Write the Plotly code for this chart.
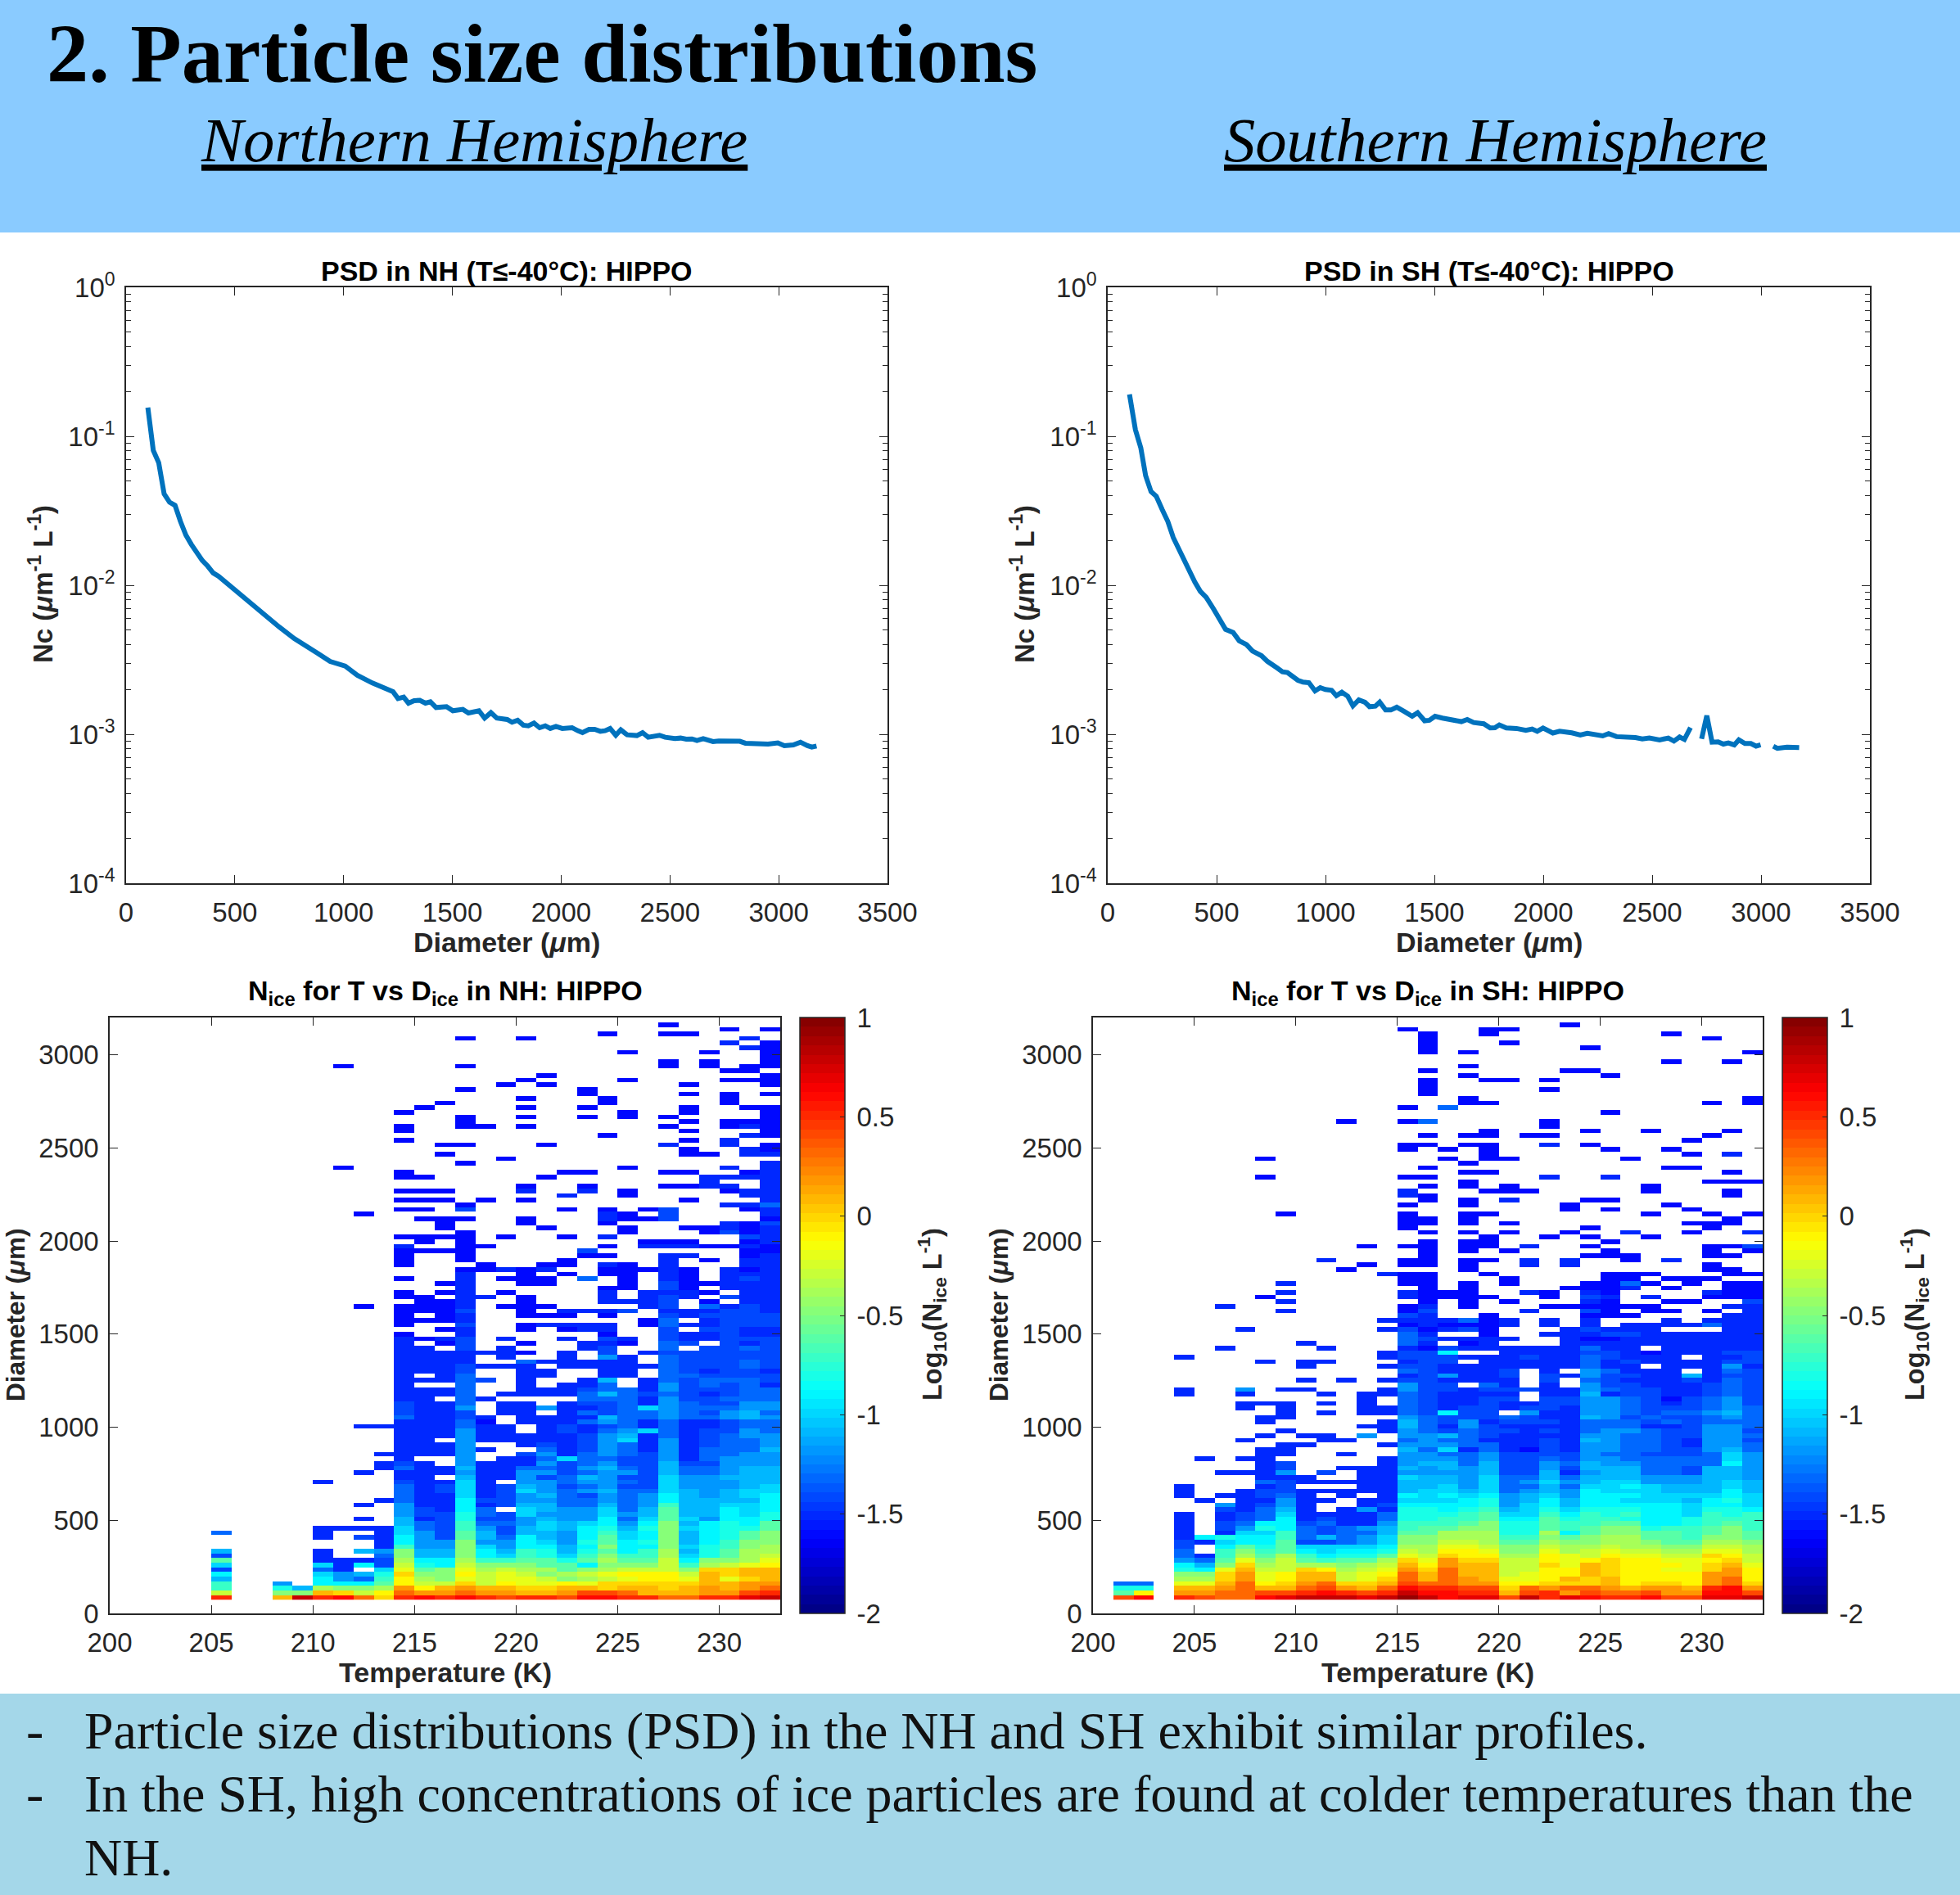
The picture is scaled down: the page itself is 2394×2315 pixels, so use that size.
import plotly.graph_objects as go

# ---------------- data ----------------
NH_DIAMETER = [100,125,150,175,200,225,250,275,300,325,350,375,400,425,475,510,552,593,649,704,773,828,883,938,1007,1063,1132,1214,
1227,1250,1276,1298,1324,1350,1376,1399,1425,1473,1502,1548,1574,1622,1648,1677,1704,1752,1774,1800,1826,1849,1875,1901,1927,1950,1976,2005,2050,2076,2098,2128,2154,2180,2202,2225,2251,2274,2303,2348,2374,2400,2452,2478,2523,2549,2575,2601,2624,2653,2698,2724,2821,2847,2925,2951,2996,3026,3067,3100,3132,3152,3174]
NH_NC = [0.156,0.0805,0.0665,0.0410,0.0361,0.0344,0.0268,0.0217,0.0188,0.01655,0.01467,0.01346,0.01211,0.0115,0.0100,0.0089,0.00802,0.00711,0.00604,0.00525,0.00439,0.00395,0.00348,0.00308,0.00287,0.00249,0.00221,0.00197,
0.001932,0.001738,0.001774,0.001618,0.001682,0.001688,0.001618,0.001652,0.001512,0.001532,0.001438,0.001469,0.001390,0.001438,0.001284,0.001396,0.001284,0.001256,0.001205,0.001242,0.001151,0.001140,0.001189,0.001107,0.001140,0.001094,0.001130,0.001094,0.001107,0.001057,0.001026,0.001079,0.001079,0.001047,0.001057,0.001094,0.000984,0.001071,0.000992,0.000980,0.001026,0.000955,0.000984,0.000955,0.000935,0.000943,0.000927,0.000931,0.000908,0.000935,0.000893,0.000900,0.000897,0.000871,0.000867,0.000859,0.000875,0.000838,0.000849,0.000885,0.000838,0.000820,0.000834]
SH_DIAMETER = [100,127,152,174,199,223,251,276,301,325,350,375,400,425,452,485,513,541,576,604,637,665,706,734,
778,802,825,873,897,924,952,976,999,1028,1050,1075,1102,1126,1153,1181,1202,1229,1249,1276,1300,1327,1360,1398,1423,1455,1477,1503,1537,1601,1624,1651,1680,1727,1756,1778,1798,1830,1877,1920,1949,1972,1999,2044,2075,2131,2170,2202,2273,2300,2336,2423,2455,2487,2534,2574,2600,2626,2648,2676,2700,2727,2751,2775,2803,2827,2850,2877,2898,2926,2953,2977,2998,3025,3056,3075,3119,3151,3175]
SH_NC = [0.1914,0.1109,0.0835,0.0545,0.0425,0.0396,0.0320,0.0268,0.0209,0.0175,0.0150,0.0125,0.0105,0.00912,0.00832,0.00697,0.00583,0.00506,0.00482,0.00424,0.00400,0.00362,0.00337,0.00308,
0.002786,0.002628,0.002594,0.002306,0.002239,0.002218,0.001955,0.002056,0.001999,0.001972,0.001815,0.001915,0.001799,0.001552,0.001703,0.001640,0.001532,0.001545,0.001644,0.001455,0.001455,0.001519,0.001426,0.001321,0.001396,0.001231,0.001242,0.001321,0.001284,0.001219,0.001216,0.001256,0.001199,0.001175,0.001102,0.001107,0.001156,0.001102,0.001094,0.001062,0.001084,0.001047,0.001102,0.001019,0.001047,0.001022,0.000988,0.001014,0.000975,0.001010,0.000964,0.000951,0.000931,0.000943,0.000917,0.000943,0.000900,0.000959,0.000923,0.001107,None,0.000931,0.001333,0.000885,0.000889,0.000859,0.000875,0.000849,0.000917,0.000867,0.000867,0.000832,0.000849,None,0.000832,0.000804,0.000820,0.000815,0.000815]

TEMPERATURE_BINS = [200.5 + c for c in range(33)]
DIAMETER_BINS_TOP_DOWN = [3186.4 - 24.8 * n for n in range(126)]

# one letter per cell, "col:letters" = run of cells starting at a temperature column
LEVEL_LETTERS = "ABCDEFGHIJKLMNOPQRSTUVWXYZ"
LEVEL_VALUES = [-1.62,-1.5,-1.4,-1.3,-1.2,-1.1,-1.0,-0.9,-0.8,-0.7,-0.6,-0.5,-0.4,-0.3,-0.2,-0.1,0.0,0.1,0.2,0.3,0.4,0.5,0.6,0.7,0.8,0.95]

NH_ROWS = [
"","27:A","30:A 32:A","24:A 27:AA","17:A 20:A 31:B","30:B 32:A","31:B 32:A","25:A 29:A 32:A","32:A","27:A 29:A 32:A",
"11:A 17:A 27:A 29:A 31:AA","30:AA","21:A 32:A","20:A 25:A 30:AAA","19:A 21:A 28:A 32:A","17:A 23:A","23:A 28:A 30:A 32:A","20:A 24:A 30:A","16:A 24:A 30:A","15:A 20:A 23:A 28:A 31:AA",
"14:A 25:A 28:A 32:A","17:A 20:A 23:A 25:A 27:A 32:A","17:A 28:A 30:AAA","14:A 17:AA 20:A 27:A 30:ABA","14:A 28:A 32:A","24:A 31:BA","14:A 28:A 30:B","16:AA 21:A 27:B 30:B 32:A","28:A 31:BA","16:A 28:AA 31:BB",
"19:A","17:A 32:B","11:A 25:A 30:B 32:B","14:A 22:AA 27:AA 31:AB","14:AA 21:A 29:BBB 32:B","29:B 32:B","20:A 23:A 27:AA 29:BB 32:B","14:AAA 20:B 23:B 25:A 30:AB 32:B","22:B 25:A 31:B 32:B","14:AAA 18:A 20:A 28:A 32:B",
"17:A 30:BB 32:D","14:AA 17:C 22:A 24:A 26:A 27:C 31:A 32:B","12:A 24:BA 27:C 32:B","15:AAA 20:A 24:BAAC 32:A","16:A 20:A 24:A 30:BA 32:C","16:A 21:A 25:A 28:AA 30:B 31:AB","17:A 25:A 29:A 30:C 31:AB","14:AAAA 19:A 22:A 24:B 31:CB","15:A 17:A 26:AAA 31:AB","14:B 17:AA 24:A 26:BBBAA 31:BA",
"14:AAAA 23:C 31:AA","14:A 17:A 23:AA 27:BB 31:AB","14:A 17:A 22:A 27:B 29:A 31:BB","14:A 18:A 21:AA 24:BA 27:B 31:BB","17:AABAB 24:AAA 27:BA 30:BAB","17:B 20:A 22:A 24:AA 27:BA 30:BBB","14:A 17:B 19:AAA 23:D 25:A 27:BA 30:BCB","16:AB 20:AA 25:A 27:CA 29:A 30:BBB","17:B 24:AA 27:CA 30:BBB","14:A 16:AB 19:A 24:B 26:BBBA 31:BB",
"14:AA 17:BB 20:A 24:B 26:BCB 30:C 31:BB","15:AAB 20:A 24:BBBC 29:A 31:BB","12:A 14:AAAB 19:AAA 26:BC 29:D 30:BCB","14:AAAC 20:A 22:BBB 25:C 27:BBBCCB","14:A 16:AB 20:AAA 24:A 27:CBCCCC","14:AAAB 26:A 27:D 29:BCCC","14:A 17:C 20:ABBBB 26:A 27:D 28:BBCCC","16:A 17:B 20:A 22:ABB 27:C 29:CCBB","14:A 17:B 24:A 27:CBBCBB","14:BABC 19:B 22:B 24:C 25:B 27:CBBCCC",
"14:B 16:AC 20:A 23:BBA 27:DC 30:CBC","14:BB 17:C 19:B 23:BC 27:D 29:CCDC","14:BBBB 18:BBA 22:B 24:C 26:B 27:CCCCCC","14:BBBB 19:B 22:B 24:E 25:B 27:DCCCCC","14:BBBB 20:D 21:BBBB 25:B 27:DCCCDC","14:BBBC 18:BBB 22:BBBB 26:B 27:DCCCDC","14:BBBC 20:BB 24:BB 27:DCBCCB","14:B 16:BD 20:BB 24:BB 27:DDCCCC","14:BBBD 18:C 20:B 23:B 24:F 26:B 27:DCDDDC","14:B 17:D 20:B 22:BB 24:D 26:B 27:ECDCDB",
"14:BBBD 20:BBBCDD 26:B 27:ECCCDD","14:BBBD 19:BBBB 23:D 24:F 25:D 26:C 27:DCBCDD","14:BB 17:D 18:B 23:DDDB 27:ECCDDD","14:CBBD 19:BB 22:BC 24:CDB 27:EDCCEE","14:CBBE 19:BB 21:E 22:BBCD 26:G 27:EDDDEE","14:CBBC 19:BB 22:BDCDD 27:EDCEFD","14:DBBC 18:B 20:BBB 23:B 24:F 25:D 26:D 27:EDDEFE","14:BBB 17:D 18:A 20:BBB 23:DEDBD 28:BB 30:CDD","12:BB 14:BBB 17:D 18:BB 21:BCBCDB 27:DBBCDD","14:BBB 17:E 18:BB 21:BCBDEG 27:DBCCED",
"14:BBB 17:E 18:BBB 21:BBCEFB 27:DBCDEE","14:BB 17:E 18:BBB 21:BBCEGB 27:EBCDDE","14:BBB 17:E 20:BCBCEDB 27:EBCDDE","14:BBB 17:E 18:B 21:DBCEDB 27:EBDDDF","13:B 14:BBB 17:E 20:CEBDEDC 27:EBDDEE","14:B 17:E 19:BBDGDDCC 27:EBDEEE","13:BCB 17:E 18:BBB 21:ECDECC 27:FCCEEE","13:BDBB 17:F 18:BB 20:DDCEFDC 27:FDDEFF","12:B 14:BBB 17:E 18:BB 20:EECDEEC 27:FDDEFF","14:BB 17:F 18:BB 20:ECDFECC 27:GEEFFF",
"10:B 14:CB 16:B 17:G 18:B 20:EEDEEDC 27:GEEEFF","14:DBC 17:G 18:BC 20:FECDECC 27:GEEEFG","14:DBC 17:G 18:BC 20:GEDEFDD 27:GFEFGG","14:DBB 17:G 18:BC 20:EFDCEDE 27:HFEFGH","13:B 14:DBB 17:H 18:CC 20:EEDDEDE 27:HFFFFH","12:B 14:EBB 17:H 18:BC 20:FFDDFDE 27:JFFGGH","14:ECB 17:H 18:D 20:GFEEGDF 27:KFFHGH","14:ECC 17:I 18:DC 20:GEEEGEF 27:KFFHGI","12:B 14:FBC 17:I 18:CC 20:EFEEHDG 27:KGEHHI","14:FDC 17:J 18:DD 20:EGFGHEH 27:LFHIHK",
"10:BBBB 14:GDC 17:J 18:EC 20:FGFHIFI 27:LGHIIK","5:D 10:B 13:B 14:GEC 17:K 18:FC 20:FFEHJGH 27:LFHIKL","10:B 12:CB 14:HEC 17:K 18:FD 20:HFEHKGH 27:LFHIKL","13:B 14:HEE 17:L 18:EE 20:HGEIKHI 27:LFHJLL","13:B 14:JEE 17:L 18:GE 20:HHFHLHH 27:LGIJLM","5:F 10:B 12:FE 14:LFF 17:L 18:HF 20:JIFIKHJ 27:MFIKMM","5:C 10:B 13:D 14:LFF 17:L 18:HG 20:JIGJLJJ 27:MGIKMN","5:K 10:BBBC 14:MHH 17:M 18:JJ 20:KKIKMKK 27:NHLLMO","5:G 10:GBHC 14:NIH 17:N 18:LL 20:LKKHLLL 27:NJMNOP","5:C 10:DB 13:G 14:OKL 17:O 18:MN 20:MMKLMNN 27:NLQQRR",
"5:H 10:GEFI 14:QLL 17:P 18:NO 20:NLMNOPP 27:PNRQRR","5:F 10:HEDJ 14:PML 17:O 18:NO 20:ONLMNOP 27:POROQR","5:J 8:E 10:HHHK 14:PNN 17:Q 18:NP 20:OOPOQQQ 27:QQRRSS","5:J 8:IF 10:MLLM 14:SPR 17:S 18:RR 20:QQRRQRR 27:QRSRST","5:N 8:LL 10:RQNP 14:TSS 17:T 18:SS 20:RRSUUTR 27:RRSSUV","5:V 8:RY 10:VWTQ 14:VWV 17:W 18:VU 20:VVUWWVV 27:TTVVXY",
]

SH_ROWS = [
"","23:A","15:A 19:AA","16:A 19:A 28:A","16:A 30:A","16:A 20:A","16:A 24:A","16:A 18:A 32:A","","28:A 31:A",
"18:A","16:A 23:AA","18:A 25:A","16:A 19:AA 22:A","16:A","16:A 22:A","16:A","18:A 32:A","18:AA 30:A 32:A","15:A 17:D",
"25:A","","12:A 15:AD 22:A","22:A","19:A 24:A 27:A 31:A","16:A 18:AA 21:AA 30:A","29:A","15:AA 18:AA 22:B 24:A","15:A 17:A 19:A 25:A 28:A","19:A 29:A 31:B",
"8:A 17:A 19:AA 26:A","18:A","16:A 28:AA","18:AA 31:A","8:A 15:AA 22:B 25:B","18:A 30:AAA","16:A 18:A 20:A 27:A","15:B 19:AAA 27:A 31:A","15:BA 31:A","16:A 18:A 20:B 24:AA",
"15:A 18:A 23:A 28:A","23:A 25:A 29:A","9:A 15:A 18:AA 27:A 30:A 32:A","15:AA 18:A 31:A","15:AA 18:A 20:A 29:AAA","15:A 24:A 30:A","16:A 18:A 20:A 23:A 26:B 29:A 32:B","19:A 22:A 24:A 27:A","16:A 18:AA 25:A","13:A 15:AA 18:AA 21:B 24:A 30:AAC",
"16:A 18:A 20:A 25:A 30:A 32:A","16:A 24:AAA 30:AA","11:B 15:AA 18:AA 21:B 23:B 26:A 28:B","13:A 15:AA 18:A 21:B 23:B 30:A","12:A 18:A 30:AA","14:BAA 19:A 25:AAA 31:AA","15:AA 20:A 25:AA 28:AAA","9:B 15:AA 18:A 20:A 24:AADA 29:A 31:AA","16:A 18:A 23:AAAB 28:A 31:AA","9:B 15:BAAA 21:BA 24:BA 30:BAA",
"8:A 15:BAAAA 22:A 24:CB 27:B 30:AAA","9:B 16:A 18:A 20:A 24:BA 28:AA 32:C","6:B 15:AB 18:A 22:AAAAAA 31:BB","9:B 15:AC 21:B 24:CA 27:AA 30:A 32:B","15:CB 19:A 24:AAA 31:BB","14:B 15:BBB 18:D 19:A 20:B 22:B 24:B 28:B 30:B 31:BB","15:ABAAAB 22:B 24:B 26:BBBB 30:D 31:BB","7:B 14:B 15:CABCA 23:BCBBB 31:BB","15:DB 19:A 22:B 23:BBCCBBBBBB","15:DCBBB 20:B 23:BAABBBBBBB",
"10:B 15:DB 18:AB 23:BBBBBBBBBB","6:B 11:B 15:BACBBBBBBDBB 28:BBBBB","14:B 15:CCH 20:BBBBCCBABBBCC","4:B 14:B 15:CCCBB 20:BCBB 24:DCBBB 30:BBC","8:B 10:BB 15:BCC 19:BBBB 23:B 24:DBCBB 29:BBCC","10:B 14:B 15:CCBBBBBBBDBB 28:BBBEB","15:DCBBBC 22:B 24:EDBBB 30:BDC","15:BCEBBC 22:CB 24:ECCBB 29:F 30:BCC","10:B 12:B 14:B 15:CCBBBB 22:C 24:DCBBB 29:CBDC","15:ECC 19:DB 22:B 24:ECCBBB 30:CDC",
"4:B 7:E 9:BB 14:B 15:ECCBCCCBBEDCCBBCDC","4:B 7:B 11:B 13:BB 15:DCBBBB 22:BBFBCCBBCDC","13:B 15:DCBBCC 22:CCEEDCACDEC","7:BBB 11:B 13:B 15:DCBBCB 21:BCCEEDCBCDEC","7:B 9:B 13:BB 15:DCBCCBCCBEEDCCCDED","9:B 11:B 13:BB 15:DCHCC 21:EBBEEDCDDEFD","8:BB 15:EDCCCDCBBFECDCCDED","8:B 14:B 15:FDCEBCCCBDDDCDCDDD","13:BB 15:FDBECBBBBDDDBBCEED","9:B 14:B 15:EDCDCCBCBDEEDCCEEC",
"8:B 10:BB 13:E 15:EEFDCBBBBEEDDCCEED","7:B 11:BB 15:DEDDBBBCBFEDDCBEEC","9:BB 14:B 15:EEEDDBBCBEEDDCBEED","8:BB 15:FDGBDBACBEEDDCCEFD","8:BB 12:B 15:EEDDECCCCEDDCCCDGE","5:B 7:BB 14:B 15:EEEDECCDCEEDDDDDGE","8:BC 14:B 15:EFFDFCCEDFEEDDDDHE","8:BC 12:BBB 15:FEFEFCCECFFFDDCFFE","6:BB 8:BE 11:C 13:BB 15:EEEEFCCFBEFFDDCFFE","8:BB 10:B 13:BB 15:GFFEGDDFDFFFEEEFFE",
"8:DC 10:BBB 13:BB 15:FFFEGDEGEFGGEEEFGF","4:B 8:BC 13:BB 15:FFGEGDDFDGGHGFFFGF","4:B 7:BCC 10:BBBBB 15:FGGFGDEFEHGGGFFFHF","4:B 6:B 7:BCD 10:B 12:B 14:B 15:HGHGHEFGEHHHGGGGHG","5:B 7:BBE 10:BB 13:BB 15:GGGHIEFHFHHGGGFHIG","6:E 7:BCE 10:B 13:BC 15:HHHHIEGHFHHHHHGHHG","6:C 7:BDF 10:B 12:BEB 15:IIHIJFGIGIIIHHGIIH","4:B 6:B 7:CDG 10:BBBBD 15:IIIJKGGJHJIJHHGJIJ","4:B 6:B 7:CDH 10:BCBBD 15:IIJJKHHKIJJIHHIJJJ","4:B 6:C 7:DHH 10:CDBBE 15:JJJKLIIKJJKKHHIJKJ",
"4:B 6:C 7:EIH 10:DCDEF 15:JKKLLIIKJKLLIJJKLJ","4:B 6:B 7:GGJ 10:DCDDF 15:KKMMMIIMHKLLKKJKLK","4:B 5:H 6:I 7:HHJ 10:DFDEG 15:LLMMMJJLKLMMKKJLLK","4:C 5:B 6:G 7:HHK 10:CCDEG 15:LLNNMKKMLLMMLKKMML","4:C 6:H 7:KIK 10:GGGGH 15:MMOONLLNMMNMMLLNNM","4:D 6:J 7:LJK 10:HGHHI 15:NMPPOLLOMNONNMMOOM","4:D 5:B 6:J 7:MKM 10:JHIIK 15:ONQPPMMPONPOONNQPN","4:E 5:D 6:K 7:OLN 10:KJKKM 15:QOSQQNNPOPQPPOOPQN","4:H 5:F 6:L 7:QMN 10:MMLMN 15:RPSRRNNQORQPPPOQRO","4:I 5:H 6:O 7:RNN 10:QPMNO 15:SQTRRNNPPRQPPOOQSP",
"4:L 5:L 6:Q 7:SOP 10:RRNOP 15:TRTRRNOPPRQPPPPSSP","4:M 5:M 6:Q 7:SOP 10:RRNOQ 15:TRTSROOPRQRPPPPSTP","1:DD 4:OO 6:R 7:TPQ 10:STQQR 15:UTTSSPPQQQRPQQPSTQ","1:II 4:RR 6:S 7:TRR 10:TUSRT 15:WVVUUQTSTTSRSSRVWS","1:KP 4:SS 6:TT 8:UU 10:VWVUV 15:YWWVVRUVSUTTUSSWWU","1:UW 4:VU 6:TT 8:WX 10:YYYXY 15:ZYWXXUYVXWVVWUUXXY",
]

COLORBAR_TICKS = [-2, -1.5, -1, -0.5, 0, 0.5, 1]
COLORBAR_LABELS = ["\u2009-2", "\u2009-1.5", "\u2009-1", "\u2009-0.5", "\u20090", "\u20090.5", "\u20091"]
HEAT_X_TICKS = [200, 205, 210, 215, 220, 225, 230]
HEAT_Y_TICKS = [0, 500, 1000, 1500, 2000, 2500, 3000]
LINE_X_TICKS = [0, 500, 1000, 1500, 2000, 2500, 3000, 3500]
LINE_Y_TICKS = [1e-4, 1e-3, 1e-2, 1e-1, 1]
LINE_Y_LABELS = ["10<sup>-4</sup>", "10<sup>-3</sup>", "10<sup>-2</sup>", "10<sup>-1</sup>", "10<sup>0</sup>"]

# ---------------- page geometry (pixels) ----------------
W, H = 2394, 2315
TOP_BAND_H, BOTTOM_BAND_Y = 284, 2069
LINE_PANELS = {"NH": (154, 1084), "SH": (1353, 2284)}
LINE_Y = (351, 1079)
HEAT_PANELS = {"NH": (134, 953), "SH": (1335, 2153)}
HEAT_Y = (1243, 1971)
CBAR_X = {"NH": 977, "SH": 2177}
CBAR_W = 55

INK = "#262626"
SANS = "Liberation Sans"
SERIF = "Liberation Serif"
TICK_SIZE = 33
LABEL_SIZE = 34


def px(x):
    return x / W


def py(y):
    return 1 - y / H


def decode(rows):
    grid = []
    for text in rows:
        cells = [None] * 33
        for run in text.split():
            start, letters = run.split(":")
            for k, ch in enumerate(letters):
                cells[int(start) + k] = LEVEL_VALUES[LEVEL_LETTERS.index(ch)]
        grid.append(cells)
    return grid[::-1]


def jet(i, n=64):
    t = (i + 0.5) / n
    r = min(4 * t - 1.5, -4 * t + 4.5)
    g = min(4 * t - 0.5, -4 * t + 3.5)
    b = min(4 * t + 0.5, -4 * t + 2.5)
    return "rgb(%d,%d,%d)" % tuple(round(255 * max(0, min(1, v))) for v in (r, g, b))


JET_STEPS = []
for i in range(64):
    JET_STEPS += [[i / 64, jet(i)], [(i + 1) / 64, jet(i)]]

fig = go.Figure()

axis_common = dict(
    showgrid=False, zeroline=False, showline=True, linecolor=INK, linewidth=1.6,
    mirror="ticks", ticks="inside", ticklen=10, tickwidth=1.4, tickcolor=INK,
    tickfont=dict(family=SANS, size=TICK_SIZE, color=INK), automargin=False,
)
x_axis_common = dict(axis_common, ticklabelstandoff=6)
y_axis_common = dict(axis_common, ticklabelstandoff=5)

layout = dict(
    width=W, height=H, autosize=False, margin=dict(l=0, r=0, t=0, b=0, pad=0),
    paper_bgcolor="white", plot_bgcolor="white", showlegend=False,
    shapes=[
        dict(type="rect", xref="paper", yref="paper", x0=0, x1=1, y0=py(TOP_BAND_H), y1=1,
             fillcolor="#8ACBFF", line_width=0, layer="below"),
        dict(type="rect", xref="paper", yref="paper", x0=0, x1=1, y0=0, y1=py(BOTTOM_BAND_Y),
             fillcolor="#A4D7E9", line_width=0, layer="below"),
    ],
    annotations=[],
)


def note(text, x, y, size, family=SANS, color=INK, angle=0, xanchor="center", yanchor="middle"):
    layout["annotations"].append(dict(
        text=text, x=px(x), y=py(y), xref="paper", yref="paper", showarrow=False,
        xanchor=xanchor, yanchor=yanchor, textangle=angle, align="left",
        font=dict(family=family, size=size, color=color),
    ))


panels = [("NH", NH_DIAMETER, NH_NC, NH_ROWS, 1), ("SH", SH_DIAMETER, SH_NC, SH_ROWS, 3)]
for hemi, dia, nc, rows, idx in panels:
    # line panel
    x0, x1 = LINE_PANELS[hemi]
    layout["xaxis%d" % idx] = dict(x_axis_common, domain=[px(x0), px(x1)], anchor="y%d" % idx,
                                   range=[0, 3500], tickvals=LINE_X_TICKS)
    layout["yaxis%d" % idx] = dict(y_axis_common, domain=[py(LINE_Y[1]), py(LINE_Y[0])], anchor="x%d" % idx,
                                   type="log", range=[-4, 0], tickvals=LINE_Y_TICKS, ticktext=LINE_Y_LABELS,
                                   minor=dict(ticks="inside", ticklen=6, tickwidth=1.2, tickcolor=INK, dtick="D1"))
    fig.add_trace(go.Scatter(x=dia, y=nc, mode="lines", connectgaps=False,
                             line=dict(color="#0072BD", width=6),
                             xaxis="x%d" % idx, yaxis="y%d" % idx, hoverinfo="skip"))
    mid = (x0 + x1) / 2
    note("<b>PSD in %s (T≤-40°C): HIPPO</b>" % hemi, mid, 331, LABEL_SIZE, color="#000000")
    note("<b>Diameter (<i>μ</i>m)</b>", mid, 1151, LABEL_SIZE)
    note("<b>Nc (<i>μ</i>m<sup>-1</sup> L<sup>-1</sup>)</b>", x0 - 104, 714, 33, angle=-90)

    # heat panel
    hx0, hx1 = HEAT_PANELS[hemi]
    layout["xaxis%d" % (idx + 1)] = dict(x_axis_common, domain=[px(hx0), px(hx1)], anchor="y%d" % (idx + 1),
                                         range=[200, 233], tickvals=HEAT_X_TICKS)
    layout["yaxis%d" % (idx + 1)] = dict(y_axis_common, domain=[py(HEAT_Y[1]), py(HEAT_Y[0])], anchor="x%d" % (idx + 1),
                                         range=[0, 3200], tickvals=HEAT_Y_TICKS)
    fig.add_trace(go.Heatmap(
        x=TEMPERATURE_BINS, y=DIAMETER_BINS_TOP_DOWN[::-1], z=decode(rows),
        zmin=-2, zmax=1, colorscale=JET_STEPS, hoverinfo="skip", zsmooth=False, hoverongaps=False,
        xaxis="x%d" % (idx + 1), yaxis="y%d" % (idx + 1),
        colorbar=dict(
            x=px(CBAR_X[hemi]), xanchor="left", xref="paper", xpad=0, ypad=0,
            y=py(HEAT_Y[1]), yanchor="bottom", yref="paper", len=(HEAT_Y[1] - HEAT_Y[0]) / H, lenmode="fraction",
            thickness=CBAR_W, thicknessmode="pixels", outlinewidth=1.5, outlinecolor=INK,
            ticks="inside", ticklen=6, tickcolor=INK, tickvals=COLORBAR_TICKS, ticktext=COLORBAR_LABELS,
            tickfont=dict(family=SANS, size=TICK_SIZE, color=INK),
        ),
    ))
    hmid = (hx0 + hx1) / 2
    note("<b>N<sub>ice</sub> for T vs D<sub>ice</sub> in %s: HIPPO</b>" % hemi, hmid, 1212, LABEL_SIZE, color="#000000")
    note("<b>Temperature (K)</b>", hmid, 2043, LABEL_SIZE)
    note("<b>Diameter (<i>μ</i>m)</b>", hx0 - 115, 1606, 31.5, angle=-90)
    note("<b>Log<sub>10</sub>(N<sub>ice</sub> L<sup>-1</sup>)</b>", hx1 + 185, 1606, 32.5, angle=-90)

# slide text
note("<b>2. Particle size distributions</b>", 55, 66, 102.3, family=SERIF, color="#000000", xanchor="left")
note("<i><u>Northern Hemisphere</u></i>", 243, 172, 76.6, family=SERIF, color="#000000", xanchor="left")
note("<i><u>Southern Hemisphere</u></i>", 1493, 172, 76.6, family=SERIF, color="#000000", xanchor="left")
note("-", 30, 2114, 64, family=SERIF, color="#111111", xanchor="left")
note("-", 30, 2191, 64, family=SERIF, color="#111111", xanchor="left")
note("Particle size distributions (PSD) in the NH and SH exhibit similar profiles.", 101, 2114, 63.9,
     family=SERIF, color="#111111", xanchor="left")
note("In the SH, high concentrations of ice particles are found at colder temperatures than the", 101, 2191, 63.9,
     family=SERIF, color="#111111", xanchor="left")
note("NH.", 101, 2269, 63.9, family=SERIF, color="#111111", xanchor="left")

fig.update_layout(**layout)
fig.write_html("out.html", config={"displayModeBar": False},
               post_script="document.body.style.margin='0';document.documentElement.style.overflow='hidden';")
